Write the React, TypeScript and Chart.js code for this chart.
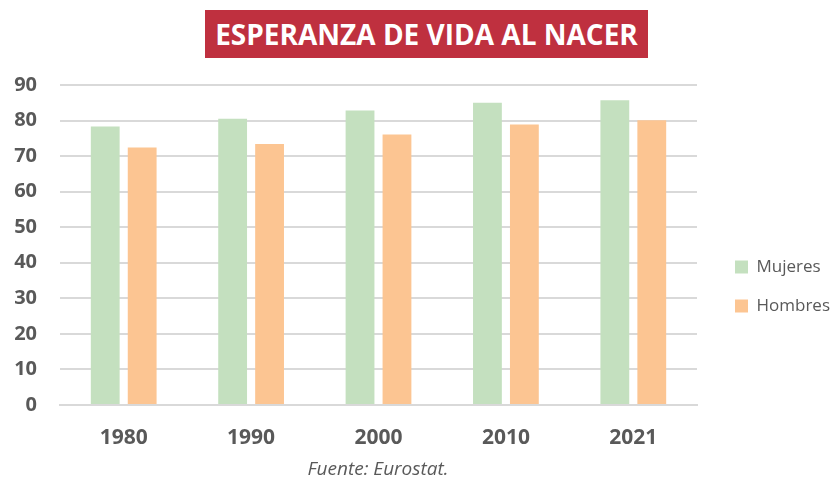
import React, { useEffect, useRef } from 'react';
import { Chart, registerables } from 'chart.js';

Chart.register(...registerables);

const categories: string[] = ['1980', '1990', '2000', '2010', '2021'];
const mujeres: number[] = [78.3, 80.5, 82.8, 85.0, 85.7];
const hombres: number[] = [72.4, 73.4, 76.1, 78.9, 80.1];
const seriesNames: string[] = ['Mujeres', 'Hombres'];
const yMin = 0;
const yMax = 90;
const yStep = 10;
const titleText = 'ESPERANZA DE VIDA AL NACER';
const sourceText = 'Fuente: Eurostat.';

const GREEN = '#c4e0bf';
const ORANGE = '#fcc592';
const TEXT = '#595959';
const GRID = '#d9d9d9';
const FONT = "'Open Sans', sans-serif";

const legendShift = {
  id: 'legendShift',
  afterLayout(chart: any) {
    const l = chart.legend;
    if (l) {
      l.left += 16;
      l.right += 16;
      l.top += 4;
      l.bottom += 4;
    }
  },
};

export default function App() {
  const ref = useRef<HTMLCanvasElement | null>(null);

  useEffect(() => {
    if (!ref.current) return;
    const chart = new Chart(ref.current, {
      type: 'bar',
      data: {
        labels: categories,
        datasets: [
          {
            label: seriesNames[0],
            data: mujeres,
            backgroundColor: GREEN,
            borderWidth: 0,
            barPercentage: 0.78,
            categoryPercentage: 0.58,
          },
          {
            label: seriesNames[1],
            data: hombres,
            backgroundColor: ORANGE,
            borderWidth: 0,
            barPercentage: 0.78,
            categoryPercentage: 0.58,
          },
        ],
      },
      options: {
        animation: false,
        responsive: true,
        maintainAspectRatio: false,
        layout: { padding: { top: 85, left: 14, right: 12, bottom: 0 } },
        plugins: {
          title: { display: false },
          tooltip: { enabled: false },
          legend: {
            position: 'right',
            align: 'center',
            labels: {
              boxWidth: 13,
              boxHeight: 13,
              padding: 22,
              color: TEXT,
              font: { family: FONT, size: 17 },
            },
          },
        },
        scales: {
          x: {
            grid: { display: false, drawTicks: false },
            border: { display: true, color: GRID, width: 2 },
            ticks: {
              color: TEXT,
              padding: 20,
              font: { family: FONT, size: 21, weight: 'bold' },
            },
            afterFit: (scale: any) => {
              scale.height = 75;
            },
          },
          y: {
            min: yMin,
            max: yMax,
            grid: { color: GRID, lineWidth: 2, drawTicks: false },
            border: { display: false },
            ticks: {
              stepSize: yStep,
              color: TEXT,
              padding: 23,
              font: { family: FONT, size: 20, weight: 'bold' },
            },
            afterFit: (scale: any) => {
              scale.width = 46;
            },
          },
        },
      },
      plugins: [legendShift],
    });
    return () => chart.destroy();
  }, []);

  return (
    <div
      style={{
        position: 'fixed',
        left: 0,
        top: 0,
        width: 836,
        height: 480,
        background: '#ffffff',
        fontFamily: FONT,
      }}
    >
      <canvas ref={ref} style={{ position: 'absolute', left: 0, top: 0, width: 836, height: 480 }} />
      <div
        style={{
          position: 'absolute',
          left: 205,
          top: 10,
          width: 443,
          height: 48,
          background: '#bf303f',
          color: '#ffffff',
          fontWeight: 700,
          fontSize: 28,
          lineHeight: '48px',
          textAlign: 'center',
          whiteSpace: 'nowrap',
        }}
      >
        {titleText}
      </div>
      <div
        style={{
          position: 'absolute',
          left: 228,
          top: 456,
          width: 300,
          textAlign: 'center',
          color: TEXT,
          fontStyle: 'italic',
          fontSize: 19,
          lineHeight: '24px',
        }}
      >
        {sourceText}
      </div>
    </div>
  );
}
